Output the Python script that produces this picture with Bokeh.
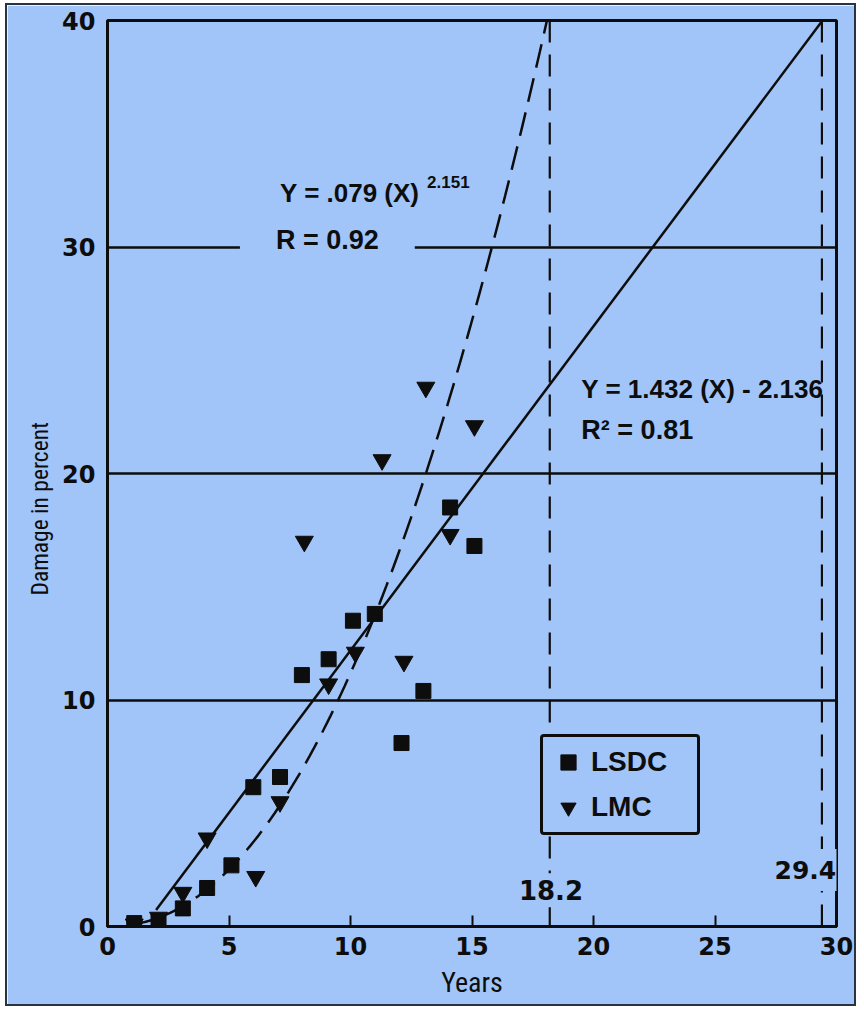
import numpy as np
from bokeh.plotting import figure
from bokeh.models import Range1d, FixedTicker, Label, Legend, LegendItem, ColumnDataSource, Title
from bokeh.embed import file_html
from bokeh.resources import INLINE

# ---------------- data ----------------
lsdc_years = [1.1, 2.1, 3.1, 4.1, 5.1, 6.0, 7.1, 8.0, 9.1, 10.1, 11.0, 12.1, 13.0, 14.1, 15.1]
lsdc_damage = [0.15, 0.2, 0.8, 1.7, 2.7, 6.15, 6.6, 11.1, 11.8, 13.5, 13.8, 8.1, 10.4, 18.5, 16.8]

lmc_years = [1.1, 2.1, 3.1, 4.1, 6.1, 7.1, 8.1, 9.1, 10.2, 11.3, 12.2, 13.1, 14.1, 15.1]
lmc_damage = [0.1, 0.4, 1.5, 3.9, 2.2, 5.5, 17.0, 10.7, 12.1, 20.6, 11.7, 23.8, 17.3, 22.1]

# regression fits printed on the chart
LIN_SLOPE, LIN_INTERCEPT = 1.432, -2.136
POW_A, POW_B = 0.079, 2.151
LIN_X_START, POW_X_START = 2.0, 1.0
Y_LIMIT = 40
cross_years = [18.2, 29.4]
cross_labels = ["18.2", "29.4"]

x_ticks = [0, 5, 10, 15, 20, 25, 30]
y_ticks = [0, 10, 20, 30, 40]
grid_levels = [10, 20, 30]

BG = "#a2c5f9"
INK = "#0d0d0d"
WIDE = "DejaVu Sans"
ARIAL = "Liberation Sans"
NARROW = "Liberation Sans Narrow, Roboto Condensed, Liberation Sans"

# fit curves from the printed equations
lin_x_end = (Y_LIMIT - LIN_INTERCEPT) / LIN_SLOPE
lin_x = [LIN_X_START, lin_x_end]
lin_y = [LIN_SLOPE * x + LIN_INTERCEPT for x in lin_x]
pow_x_end = (Y_LIMIT / POW_A) ** (1.0 / POW_B)
pow_x = list(np.linspace(POW_X_START, pow_x_end, 120))
pow_y = [POW_A * x ** POW_B for x in pow_x]

p = figure(width=851, height=1003, output_backend="svg", toolbar_location=None,
           x_range=Range1d(0, 30), y_range=Range1d(0, 40),
           min_border_left=100, min_border_right=22, min_border_top=15, min_border_bottom=82)
p.styles = {"border": "2px solid #2a3440", "margin-left": "5px", "margin-top": "3px"}
p.background_fill_color = BG
p.border_fill_color = BG
p.outline_line_color = INK
p.outline_line_width = 3

# axes
p.xaxis.ticker = FixedTicker(ticks=x_ticks)
p.yaxis.ticker = FixedTicker(ticks=y_ticks)
for ax in (p.xaxis, p.yaxis):
    ax.axis_line_color = INK
    ax.axis_line_width = 3
    ax.major_label_text_font = WIDE
    ax.major_label_text_font_style = "bold"
    ax.major_label_text_font_size = "24px"
    ax.major_label_text_color = INK
    ax.minor_tick_line_color = None
p.xaxis.major_tick_in = 11
p.xaxis.major_tick_out = 0
p.xaxis.major_tick_line_width = 2
p.xaxis.major_tick_line_color = INK
p.xaxis.major_label_standoff = 10
p.xaxis.axis_label = "Years"
p.xaxis.axis_label_text_font = NARROW
p.xaxis.axis_label_text_font_style = "normal"
p.xaxis.axis_label_text_font_size = "28px"
p.xaxis.axis_label_text_color = INK
p.xaxis.axis_label_standoff = 8
p.yaxis.major_tick_line_color = None
p.yaxis.major_label_standoff = 6

p.add_layout(Title(text="Damage in percent", align="left", offset=331,
                   text_font=NARROW, text_font_style="normal", text_font_size="23.5px",
                   text_color=INK, standoff=12), "left")

p.xgrid.grid_line_color = None
p.ygrid.ticker = FixedTicker(ticks=grid_levels)
p.ygrid.grid_line_color = INK
p.ygrid.grid_line_width = 2.5
p.ygrid.grid_line_alpha = 1.0

# vertical dashed markers
p.segment(x0=cross_years, y0=[0, 0], x1=cross_years, y1=[Y_LIMIT, Y_LIMIT],
          line_color=INK, line_width=2.2, line_dash="22 12")

# fits
p.line(lin_x, lin_y, line_color=INK, line_width=2.5)
p.line(pow_x, pow_y, line_color=INK, line_width=2.5, line_dash="24 11")

# points
src_l = ColumnDataSource(dict(x=lsdc_years, y=lsdc_damage))
src_m = ColumnDataSource(dict(x=lmc_years, y=lmc_damage))
r_l = p.scatter("x", "y", source=src_l, marker="square", size=15, fill_color=INK, line_color=INK)
r_m = p.scatter("x", "y", source=src_m, marker="inverted_triangle", size=18, fill_color=INK, line_color=INK)

legend = Legend(items=[LegendItem(label="LSDC", renderers=[r_l]),
                       LegendItem(label="LMC", renderers=[r_m])],
                location=(433, 91))
legend.background_fill_color = BG
legend.background_fill_alpha = 1.0
legend.border_line_color = INK
legend.border_line_alpha = 1.0
legend.border_line_width = 3
legend.border_radius = 4
legend.label_text_font = ARIAL
legend.label_text_font_style = "bold"
legend.label_text_font_size = "28px"
legend.label_text_color = INK
legend.padding = 6
legend.spacing = 7
legend.glyph_width = 38
legend.glyph_height = 38
legend.label_standoff = 4
legend.label_width = 100
legend.margin = 0
p.add_layout(legend, "center")

def lab(x, y, text, size, font=ARIAL, align="left", baseline="alphabetic", bg=None, pad=0):
    kw = {}
    if bg is not None:
        kw = dict(background_fill_color=bg, background_fill_alpha=1.0, padding=pad)
    p.add_layout(Label(x=x, y=y, text=text, text_font=font, text_font_style="bold",
                       text_font_size=size, text_color=INK, text_align=align,
                       text_baseline=baseline, **kw))

lab(7.1, 32.4, "Y = .079 (X)", "26px")
lab(13.15, 32.85, "2.151", "17px")
lab(5.45, 30.3, "R = 0.92", "27px", bg=BG, pad=(36, 2))
lab(19.5, 23.75, "Y = 1.432 (X) - 2.136", "26px")
lab(19.5, 21.9, "R² = 0.81", "27px")
lab(18.25, 1.6, cross_labels[0], "26px", font=WIDE, align="center", baseline="middle", bg=BG, pad=(4, 7))
lab(28.72, 2.5, cross_labels[1], "25px", font=WIDE, align="center", baseline="middle", bg=BG, pad=(6, 12))

open("out.html", "w").write(file_html(p, INLINE))
